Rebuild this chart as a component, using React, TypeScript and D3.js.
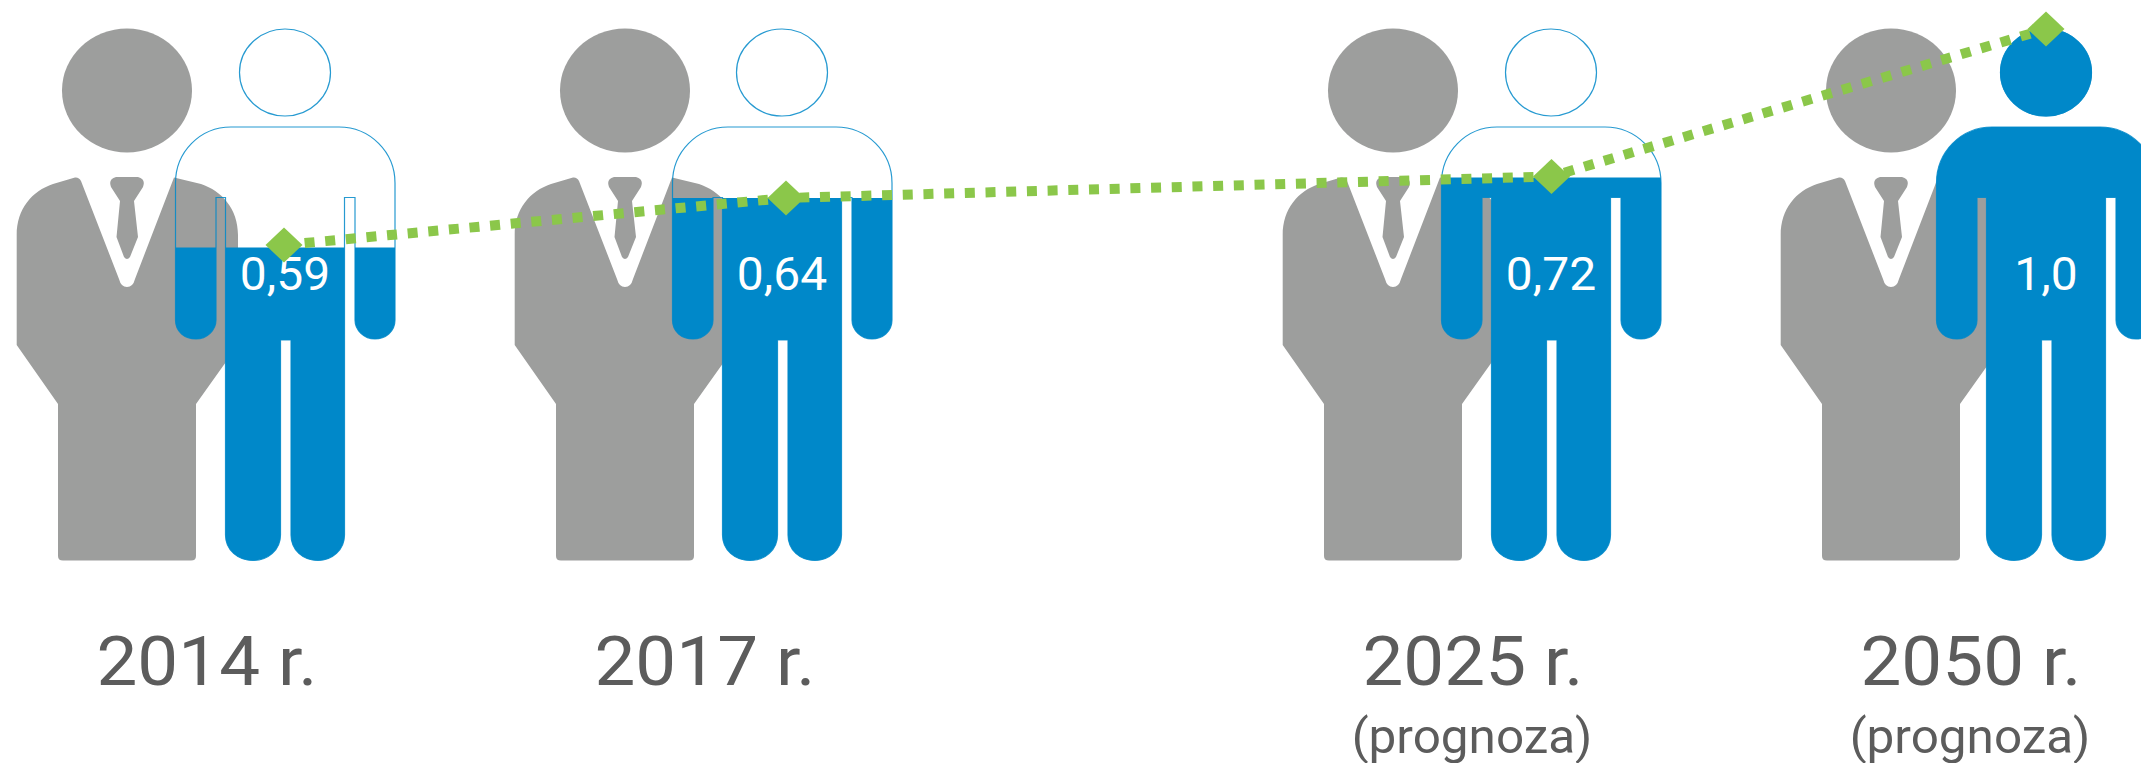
import React from "react";
import * as d3 from "d3";

const years = ["2014 r.", "2017 r.", "2025 r.", "2050 r."];
const notes = ["", "", "(prognoza)", "(prognoza)"];
const yearValues = [2014, 2017, 2025, 2050];
const values = [0.59, 0.64, 0.72, 1.0];
const valueLabels = ["0,59", "0,64", "0,72", "1,0"];

const GREY = "#9d9e9d";
const BLUE = "#0088c9";
const GREEN = "#8bc74a";
const TEXT = "#5c5c5c";

// the source graphic is not to scale: piecewise scales through its own anchor positions
const xOffset = d3.scaleLinear().domain(yearValues).range([0, 498, 1266, 1764]);
const xBlue = d3.scaleLinear().domain(yearValues).range([0, 497, 1266, 1761]);
const xMark = d3.scaleLinear().domain(yearValues).range([284, 786, 1551.5, 2046]);
const yLevel = d3.scaleLinear().domain(values).range([245, 198, 176.5, 29]);
const yFill = d3.scaleLinear().domain(values).range([247.5, 198, 177.5, 0]);

const greyBody =
  "M16.7 235 C16.7 209 32 191 53 184 L75 177.5 Q79 177 81 181 L119 279 Q121 287 127 287 Q133 287 135 279 L174 177.5 L201 184 C222 191 238 209 238 235 L238 345 L196 404 L196 556 Q196 560.5 191 560.5 L63 560.5 Q58 560.5 58 556 L58 404 L16.7 345 Z";
const tie =
  "M116 177 L138 177 Q146 179 143 187 L134 201 L138 237 L130 257 Q127 261 124 257 L116.5 237 L120 201 L111 187 Q108 179 116 177 Z";
const blueBody =
  "M231 127 L339 127 C370 127 395 152 395 183 L395 320 C395 332 385 339 375 339 C364 339 355 330 355 320 L355 197.5 L344.5 197.5 L344.5 535 C344.5 550 332 560.5 318 560.5 C303 560.5 291 550 291 535 L291 340 L280.5 340 L280.5 535 C280.5 550 268 560.5 253 560.5 C238 560.5 225.5 550 225.5 535 L225.5 197.5 L216 197.5 L216 320 C216 330 207 339 196 339 C185 339 175.5 332 175.5 320 L175.5 183 C175.5 152 200 127 231 127 Z";

const diamond = (x: number, y: number) =>
  `M${x - 18.5} ${y} L${x} ${y - 17.5} L${x + 18.5} ${y} L${x} ${y + 17.5} Z`;

export default function App() {
  const pts = yearValues.map((yr, i) => [xMark(yr), yLevel(values[i])] as [number, number]);
  const line = d3.line()(pts) as string;
  return (
    <svg width={2141} height={763} style={{ position: "absolute", left: 0, top: 0, background: "#fff" }} fontFamily="Roboto">
      <defs>
        {values.map((v, i) => (
          <clipPath id={`lvl${i}`} key={i}>
            <rect x={100} y={yFill(v)} width={400} height={700} />
          </clipPath>
        ))}
      </defs>
      {yearValues.map((yr, i) => (
        <g key={yr}>
          <g transform={`translate(${xOffset(yr)},0)`}>
            <ellipse cx={127} cy={90.5} rx={65} ry={62} fill={GREY} />
            <path d={greyBody} fill={GREY} />
            <path d={tie} fill={GREY} />
            <text transform="translate(207,685) scale(1.07,1)" textAnchor="middle" fontSize={68} fill={TEXT}>{years[i]}</text>
            {notes[i] && <text transform="translate(206,753) scale(1.03,1)" textAnchor="middle" fontSize={48} fill={TEXT}>{notes[i]}</text>}
          </g>
          <g transform={`translate(${xBlue(yr)},0)`}>
            <g clipPath={`url(#lvl${i})`}>
              <ellipse cx={285} cy={72.5} rx={46} ry={44} fill={BLUE} />
              <path d={blueBody} fill={BLUE} />
            </g>
            <ellipse cx={285} cy={72.5} rx={45.5} ry={43.5} fill="none" stroke={BLUE} strokeWidth={1.2} opacity={0.85} />
            <path d={blueBody} fill="none" stroke={BLUE} strokeWidth={1.2} opacity={0.85} />
            <text transform="translate(285,290) scale(1.02,1)" textAnchor="middle" fontSize={47} fill="#fff">{valueLabels[i]}</text>
          </g>
        </g>
      ))}
      <path d={line} fill="none" stroke={GREEN} strokeWidth={10} strokeDasharray="10 10.7" />
      {pts.map(([x, y], i) => (
        <path key={i} d={diamond(x, y)} fill={GREEN} />
      ))}
    </svg>
  );
}
